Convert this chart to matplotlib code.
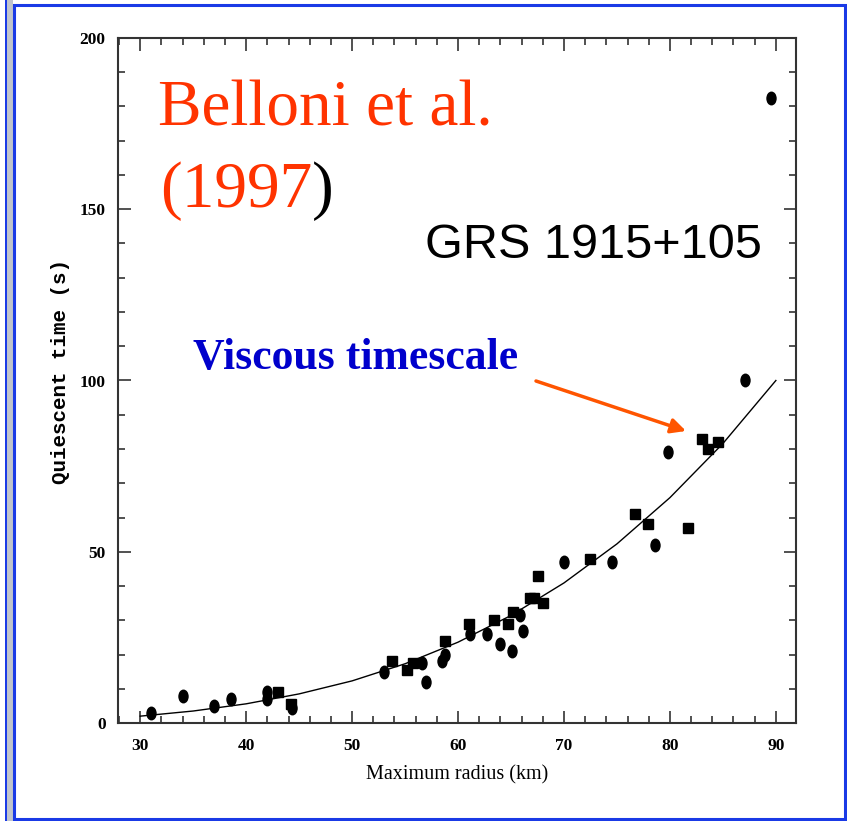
import matplotlib
matplotlib.use('Agg')
import matplotlib.pyplot as plt
import matplotlib.transforms as mt
from matplotlib.path import Path
from matplotlib.patches import Rectangle
from matplotlib.ticker import MultipleLocator

# Maximum radius (km) vs quiescent time (s)
sq_r = [43.0, 44.2, 53.8, 55.2, 55.7, 58.8, 61.0, 63.4, 64.7, 65.2, 66.8, 67.2, 67.5, 68.0,
        72.5, 76.7, 77.9, 81.7, 83.0, 83.6, 84.5]
sq_t = [9.0, 5.5, 18.0, 15.5, 17.5, 24.0, 29.0, 30.0, 29.0, 32.4, 36.5, 36.5, 43.0, 35.0,
        48.0, 61.0, 58.0, 57.0, 83.0, 80.0, 82.0]
ci_r = [31.0, 34.0, 37.0, 38.6, 42.0, 42.0, 44.3, 53.0, 56.6, 57.0, 58.5, 58.8, 61.1, 62.7,
        64.0, 65.1, 66.1, 65.8, 70.0, 74.5, 78.6, 79.8, 87.1, 89.5]
ci_t = [3.0, 8.0, 5.0, 7.0, 9.0, 7.0, 4.5, 15.0, 17.5, 12.0, 18.0, 20.0, 26.0, 26.0,
        23.0, 21.0, 27.0, 31.5, 47.0, 47.0, 52.0, 79.0, 100.0, 182.5]

# viscous timescale curve
curve_r = [30, 35, 40, 45, 50, 55, 60, 65, 70, 75, 80, 85, 90]
curve_t = [2.0, 3.5, 5.6, 8.5, 12.3, 17.3, 23.6, 31.4, 40.9, 52.3, 65.8, 81.6, 100.0]

W, H = 847, 821
fig = plt.figure(figsize=(W / 100, H / 100), dpi=100)
fig.patch.set_facecolor('white')


def fx(px):
    return px / W


def fy(py):
    return 1 - py / H


# slide frame
fig.add_artist(Rectangle((fx(7), 0), fx(6), 1, transform=fig.transFigure,
                         facecolor='#c0c4cc', edgecolor='none'))
fig.add_artist(Rectangle((fx(5), 0), fx(2), 1, transform=fig.transFigure,
                         facecolor='#1a3ae6', edgecolor='none'))
fig.add_artist(Rectangle((fx(14), fy(819)), fx(831), fy(5) - fy(819),
                         transform=fig.transFigure, facecolor='none',
                         edgecolor='#1a3ae6', lw=2.2))

ax = fig.add_axes([fx(118), fy(723), fx(796) - fx(118), fy(38) - fy(723)])

ax.plot(curve_r, curve_t, color='black', lw=1.0)
ax.plot(sq_r, sq_t, ls='none', marker='s', ms=6.5, color='black')
ell = Path.unit_circle().transformed(mt.Affine2D().scale(0.72, 1.0))
ax.plot(ci_r, ci_t, ls='none', marker=ell, ms=9, color='black')

ax.set_xlim(27.9, 91.9)
ax.set_ylim(0, 200)
ax.xaxis.set_major_locator(MultipleLocator(10))
ax.xaxis.set_minor_locator(MultipleLocator(2))
ax.yaxis.set_major_locator(MultipleLocator(50))
ax.yaxis.set_minor_locator(MultipleLocator(10))
ax.tick_params(which='both', direction='in', top=True, right=True, width=1.1, colors='#222222')
ax.tick_params(which='major', length=9)
ax.tick_params(which='minor', length=5)
ax.tick_params(axis='x', pad=11)
ax.tick_params(axis='y', pad=9)
for lab in ax.get_xticklabels() + ax.get_yticklabels():
    lab.set_family('Liberation Serif')
    lab.set_fontsize(12.5)
    lab.set_fontweight('bold')
    lab.set_color('black')
for sp in ax.spines.values():
    sp.set_linewidth(1.5)
    sp.set_color('#333333')

ax.set_xlabel('Maximum radius (km)', family='Liberation Serif', fontsize=14.5, labelpad=8)
fig.text(fx(61), fy(371), 'Quiescent time (s)', family='Liberation Mono', fontsize=15,
         fontweight='bold', rotation=90, ha='center', va='center')

# annotations
fig.text(fx(158), fy(125), 'Belloni et al.', family='Liberation Serif', fontsize=47,
         color='#ff3300', va='baseline', ha='left')
yr = fig.text(fx(160), fy(207), '(1997', family='Liberation Serif', fontsize=47,
              color='#ff3300', va='baseline', ha='left')
fig.add_artist(plt.Annotation(')', xy=(1, 0), xycoords=yr, va='bottom', ha='left',
                              family='Liberation Serif', fontsize=47, color='black'))
fig.text(fx(425), fy(258), 'GRS 1915+105', family='Liberation Sans', fontsize=35,
         color='black', va='baseline', ha='left')
fig.text(fx(193), fy(369), 'Viscous timescale', family='Liberation Serif', fontsize=31.5,
         fontweight='bold', color='#0000cc', va='baseline', ha='left')
fig.add_artist(plt.Annotation('', xy=(fx(686), fy(431)), xytext=(fx(536), fy(381)),
                              xycoords='figure fraction', textcoords='figure fraction',
                              arrowprops=dict(arrowstyle='-|>', color='#ff5500', lw=2.5,
                                              mutation_scale=22, shrinkA=0, shrinkB=0)))

fig.savefig('out.png', dpi=100)
